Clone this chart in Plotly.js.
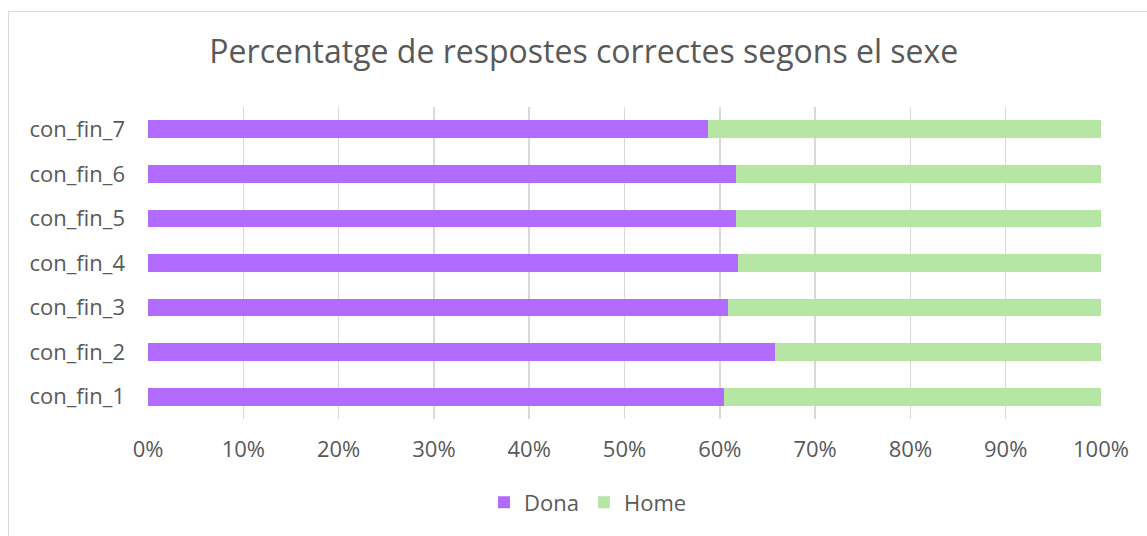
<!DOCTYPE html>
<html><head><meta charset="utf-8">
<script src="https://cdn.plot.ly/plotly-3.0.1.min.js"></script>
<style>
html,body{margin:0;padding:0;background:#fff;}
#frame{position:absolute;left:8px;top:11px;width:1150px;height:540px;border:1px solid #d9d9d9;box-sizing:border-box;pointer-events:none;z-index:5;}
#chart{position:absolute;left:0;top:0;width:1147px;height:536px;}
</style></head>
<body>
<div id="chart"></div>
<div id="frame"></div>
<script>
const categories = ["con_fin_1","con_fin_2","con_fin_3","con_fin_4","con_fin_5","con_fin_6","con_fin_7"];
const dona = [60.4, 65.8, 60.9, 61.9, 61.7, 61.7, 58.8];
const home = [39.6, 34.2, 39.1, 38.1, 38.3, 38.3, 41.2];
const xTicks = [0,10,20,30,40,50,60,70,80,90,100];
const xTickText = xTicks.map(v => v + '%');

const txt = '#595959';
const fnt = 'Open Sans, Liberation Sans, Arial, sans-serif';

const traces = [
  {type:'bar', orientation:'h', name:'Dona', y:categories, x:dona,
   marker:{color:'#B16CFF'}},
  {type:'bar', orientation:'h', name:'Home', y:categories, x:home,
   marker:{color:'#B5E6A3'}}
];

const layout = {
  width:1147, height:536,
  margin:{l:148, r:46, t:107, b:115},
  paper_bgcolor:'#fff', plot_bgcolor:'#fff',
  barmode:'stack', barnorm:'percent', bargap:0.6,
  title:{text:'Percentatge de respostes correctes segons el sexe',
    font:{family:fnt, size:32, color:txt}, x:0.509, xanchor:'center', y:0.903, yanchor:'middle', yref:'container'},
  xaxis:{range:[0,100], tickmode:'array', tickvals:xTicks, ticktext:xTickText, showgrid:true, gridcolor:'#d9d9d9', gridwidth:1.5,
    zeroline:false, showline:false, ticks:'', ticklabelstandoff:15, tickangle:0, automargin:false,
    tickfont:{family:fnt, size:22, color:txt}, fixedrange:true},
  yaxis:{type:'category', categoryorder:'array', categoryarray:categories, showgrid:false, zeroline:false, automargin:false,
    showline:false, ticks:'', ticklabelstandoff:22, tickfont:{family:fnt, size:22, color:txt}},
  legend:{orientation:'h', x:0.4617, xanchor:'center', y:-0.2, yanchor:'top',
    font:{family:fnt, size:22, color:txt}, traceorder:'normal', itemwidth:30},
  showlegend:true
};
Plotly.newPlot('chart', traces, layout, {displayModeBar:false, staticPlot:true});
</script>
</body></html>
